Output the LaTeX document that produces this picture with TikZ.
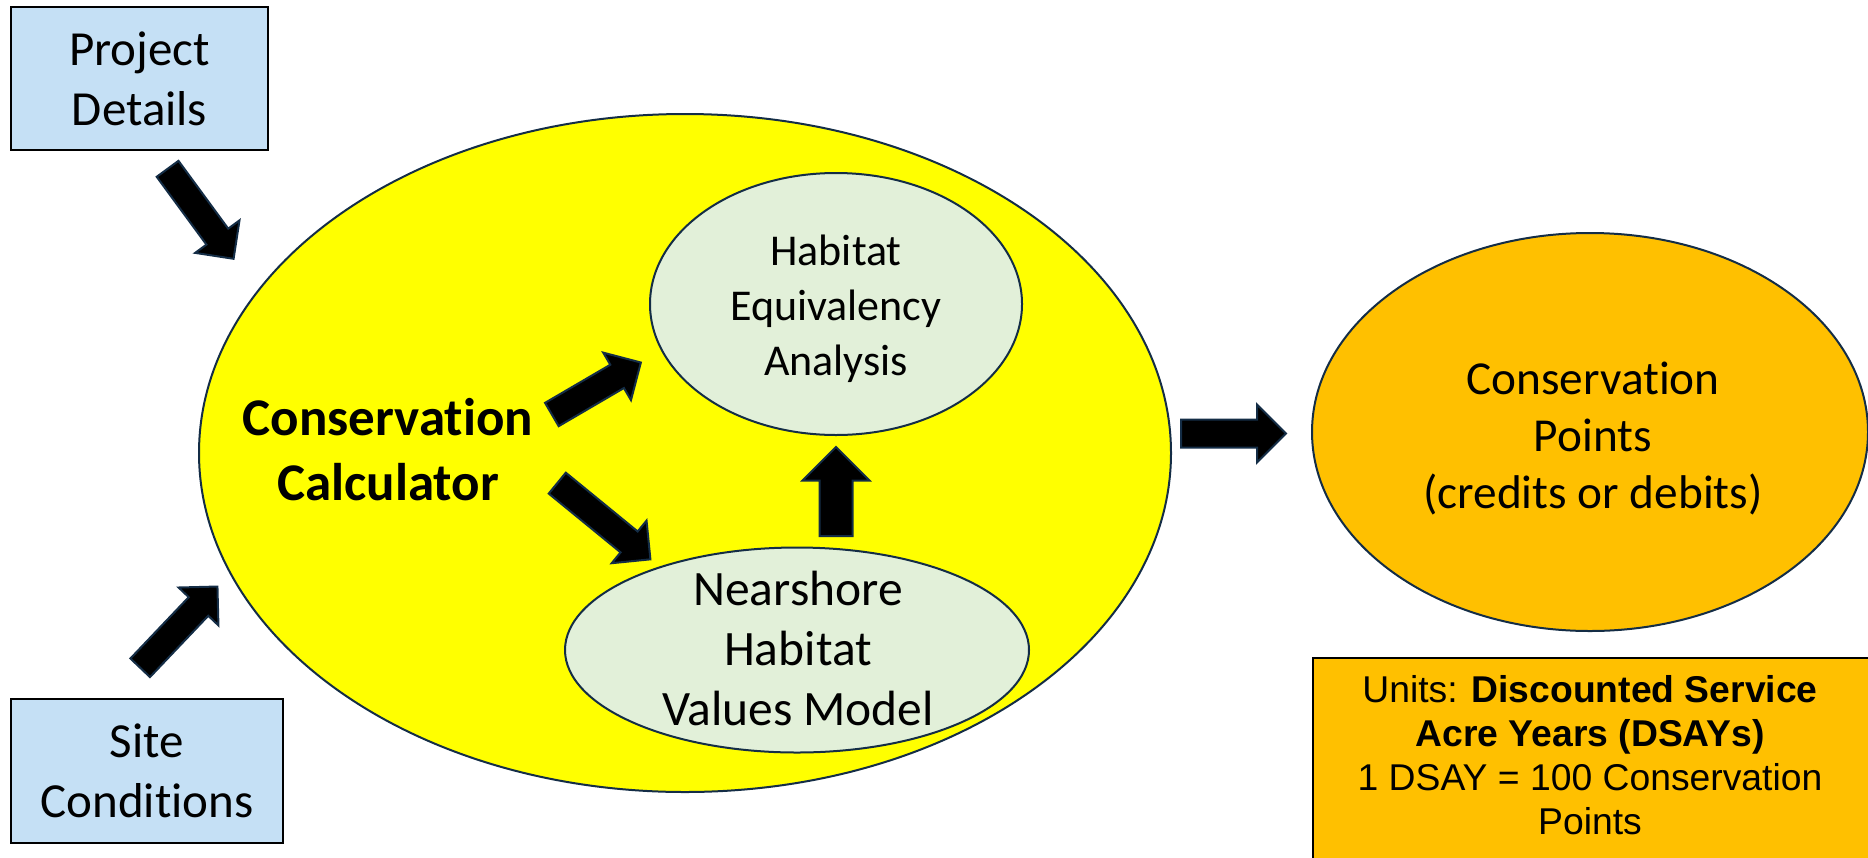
\documentclass[tikz,border=0pt]{standalone}
\usepackage{fontspec}
\setmainfont{Carlito}[Ligatures=NoCommon]
\newfontfamily\arialfont{Liberation Sans}
\usetikzlibrary{calc}
\usetikzlibrary{positioning}
\usetikzlibrary{shapes,arrows}

\definecolor{inblue}{RGB}{197,224,245}
\definecolor{calcyellow}{RGB}{255,255,0}
\definecolor{habgreen}{RGB}{226,240,217}
\definecolor{ptsorange}{RGB}{255,192,0}
\definecolor{edgeblue}{RGB}{20,45,70}

\tikzset{
  inbox/.style={rectangle,draw=black,line width=2pt,fill=inblue,align=center,font=\fontsize{49}{60}\selectfont},
  oval/.style={ellipse,draw=edgeblue,line width=2pt,inner sep=0pt},
  bigarrow/.style={single arrow,draw=edgeblue,line width=2pt,fill=black,inner sep=12.5pt,single arrow head extend=14pt},
}

% block arrow from one named coordinate to another
\newcommand{\blockarrow}[4][]{%
  \path let \p1=($(#4)-(#3)$), \n1={atan2(\y1,\x1)}, \n2={veclen(\x1,\y1)} in
    node[bigarrow,#1,rotate=\n1,minimum height=\n2,anchor=tail] (#2) at (#3) {};}

\begin{document}
\begin{tikzpicture}[x=1pt,y=-1pt]
\useasboundingbox (0,0) rectangle (1868,857);

% inputs
\node[inbox,minimum width=257pt,minimum height=143pt] (details) at (139.5,78.5) {Project\\Details};
\node[inbox,minimum width=272pt,minimum height=144pt] (site) at (147,771) {Site\\Conditions};

% calculator with its two models
\node[oval,fill=calcyellow,minimum width=972pt,minimum height=678pt] (calc) at (685,453) {};
\node[align=center,font=\bfseries\fontsize{53}{65}\selectfont] (calctxt) at (388,449.5) {Conservation\\Calculator};
\node[oval,fill=habgreen,minimum width=372pt,minimum height=262pt] (hea) at (836,304) {};
\node[align=center,font=\fontsize{44}{55}\selectfont] (heatxt) at (836,309) {Habitat\\Equivalency\\Analysis};
\node[oval,fill=habgreen,minimum width=464pt,minimum height=205pt] (nhvm) at (797,650) {};
\node[align=center,font=\fontsize{49.5}{60}\selectfont] (nhvmtxt) at (798,648) {Nearshore\\Habitat\\Values Model};

% output
\node[oval,fill=ptsorange,minimum width=556pt,minimum height=398pt] (points) at (1590,432) {};
\node[align=center,font=\fontsize{47.3}{56.5}\selectfont] (pointstxt) at (1593,438.5) {Conservation\\Points\\(credits or debits)};
\node[rectangle,draw=black,line width=2pt,fill=ptsorange,minimum width=558pt,minimum height=203pt,anchor=north west] (units) at (1312,657) {};
\node[align=center,font=\arialfont\fontsize{37.3}{44}\selectfont] (unitstxt) at (1590,755) {Units: \textbf{Discounted Service}\\\textbf{Acre Years (DSAYs)}\\1 DSAY = 100 Conservation\\Points};

% arrow ends
\coordinate (detailsTail) at (167,168);
\coordinate (detailsTip) at (233,258);
\coordinate (siteTail) at (139.5,668.5);
\coordinate (siteTip) at (217,587);
\coordinate (heaTail) at (551,415);
\coordinate (heaTip) at (640,363);
\coordinate (nhvmTail) at (556.5,482.5);
\coordinate (nhvmTip) at (650,559);
\coordinate (upTail) at (836,537);
\coordinate (upTip) at (836,448);
\coordinate (outTail) at (1180,433.5);
\coordinate (outTip) at (1285,433.5);

\blockarrow{detailsArrow}{detailsTail}{detailsTip}
\blockarrow{siteArrow}{siteTail}{siteTip}
\blockarrow{heaArrow}{heaTail}{heaTip}
\blockarrow{nhvmArrow}{nhvmTail}{nhvmTip}
\blockarrow[inner sep=15.5pt,single arrow head extend=17pt]{upArrow}{upTail}{upTip}
\blockarrow[inner sep=13pt,single arrow head extend=15pt]{outArrow}{outTail}{outTip}

\end{tikzpicture}
\end{document}
